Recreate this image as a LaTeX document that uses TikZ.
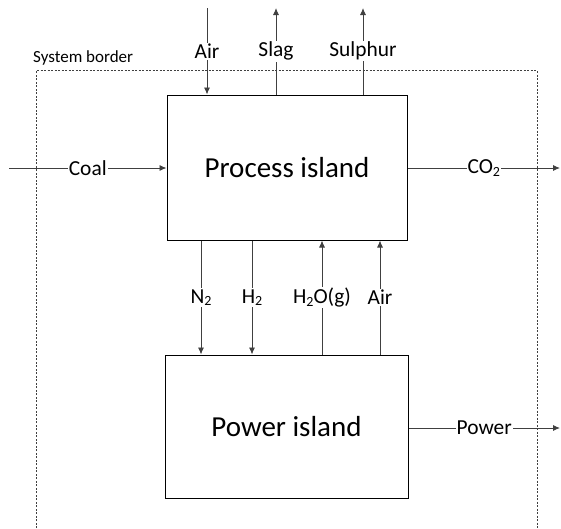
\documentclass[tikz,border=0pt]{standalone}
\usepackage{fontspec}
\setmainfont{Carlito}
\usetikzlibrary{arrows.meta}
\definecolor{linegray}{HTML}{404040}
\tikzset{
  island/.style={draw=black, line width=1pt, fill=white, inner sep=0pt, font=\fontsize{29}{34}\selectfont},
  arr/.style={draw=linegray, line width=0.9pt, -{Latex[length=7pt,width=6pt]}},
  lab/.style={fill=white, inner sep=1pt, text=black, font=\fontsize{21.4}{25}\selectfont},
  border/.style={draw=linegray, line width=0.7pt, dash pattern=on 2pt off 1.5pt},
}
\newcommand{\subtwo}{\raisebox{-0.25ex}{\fontsize{14}{16}\selectfont 2}}
\begin{document}
\begin{tikzpicture}[x=1pt,y=-1pt]
\useasboundingbox (0,0) rectangle (561,528);
% system border
\coordinate (bl) at (36,528);
\coordinate (tl) at (36,70.5);
\coordinate (tr) at (537,70.5);
\coordinate (br) at (537,528);
\draw[border] (bl) -- (tl) -- (tr) -- (br);
\node[anchor=base west, inner sep=0pt, font=\fontsize{17}{20}\selectfont] (sysb) at (33,62) {System border};
% islands
\node[island, minimum width=240pt, minimum height=145pt] (proc) at (287,167.5) {Process island};
\node[island, minimum width=243pt, minimum height=143pt] (pow) at (286.5,426.5) {Power island};
% top streams
\coordinate (airin) at (207,8);
\coordinate (slagout) at (276,8);
\coordinate (sulout) at (363,8);
\draw[arr] (airin) -- node[lab] {Air} (airin |- proc.north);
\draw[arr] (slagout |- proc.north) -- node[lab] {Slag} (slagout);
\draw[arr] (sulout |- proc.north) -- node[lab] {Sulphur} (sulout);
% coal and CO2
\coordinate (coalin) at (9,168);
\coordinate (co2out) at (560,168);
\draw[arr] (coalin) -- node[lab] {Coal} (coalin -| proc.west);
\draw[arr] (co2out -| proc.east) -- node[lab] {CO\subtwo} (co2out);
% between islands
\coordinate (xn) at (201,0);
\coordinate (xh) at (252,0);
\coordinate (xw) at (322,0);
\coordinate (xa) at (380,0);
\draw[arr] (xn |- proc.south) -- node[lab] {N\subtwo} (xn |- pow.north);
\draw[arr] (xh |- proc.south) -- node[lab] {H\subtwo} (xh |- pow.north);
\draw[arr] (xw |- pow.north) -- node[lab] {H\subtwo O(g)} (xw |- proc.south);
\draw[arr] (xa |- pow.north) -- node[lab] {Air} (xa |- proc.south);
% power
\coordinate (powout) at (560,428);
\draw[arr] (powout -| pow.east) -- node[lab] {Power} (powout);
\end{tikzpicture}
\end{document}
